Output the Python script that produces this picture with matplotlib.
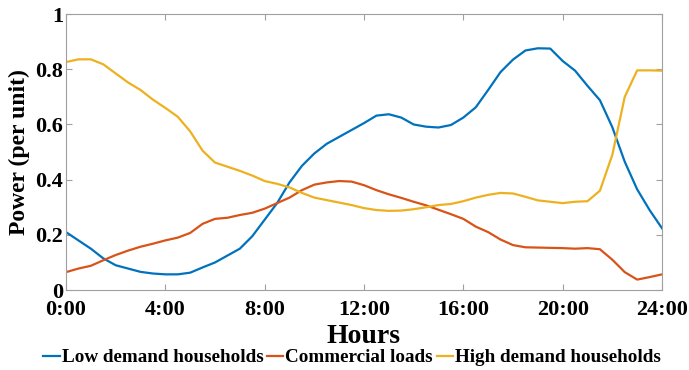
import numpy as np
import matplotlib
matplotlib.use('Agg')
import matplotlib.pyplot as plt

# half-hour samples, 0:00 .. 24:00
hours = np.arange(0, 24.5, 0.5)

low_demand = [0.21, 0.18, 0.15, 0.115, 0.09, 0.078, 0.066, 0.06, 0.057, 0.057,
              0.063, 0.082, 0.10, 0.125, 0.15, 0.195, 0.255, 0.315, 0.39, 0.45,
              0.495, 0.53, 0.555, 0.58, 0.605, 0.632, 0.637, 0.625, 0.60, 0.592,
              0.589, 0.598, 0.625, 0.662, 0.725, 0.79, 0.835, 0.868, 0.876, 0.875,
              0.83, 0.795, 0.74, 0.688, 0.59, 0.465, 0.365, 0.29, 0.224]

commercial = [0.065, 0.078, 0.088, 0.108, 0.127, 0.143, 0.157, 0.168, 0.18, 0.19,
              0.207, 0.24, 0.258, 0.262, 0.272, 0.28, 0.295, 0.315, 0.335, 0.362,
              0.382, 0.39, 0.395, 0.393, 0.38, 0.362, 0.347, 0.334, 0.32, 0.307,
              0.291, 0.275, 0.258, 0.23, 0.21, 0.183, 0.163, 0.155, 0.154, 0.153,
              0.152, 0.15, 0.152, 0.148, 0.11, 0.065, 0.038, 0.047, 0.057]

high_demand = [0.826, 0.836, 0.836, 0.818, 0.785, 0.752, 0.725, 0.69, 0.66, 0.628,
               0.575, 0.505, 0.462, 0.447, 0.432, 0.415, 0.395, 0.385, 0.372, 0.352,
               0.335, 0.326, 0.317, 0.308, 0.297, 0.29, 0.287, 0.288, 0.293, 0.30,
               0.308, 0.312, 0.322, 0.335, 0.345, 0.352, 0.35, 0.338, 0.325, 0.32,
               0.315, 0.32, 0.322, 0.36, 0.49, 0.70, 0.796, 0.796, 0.795]

series_names = ['Low demand households', 'Commercial loads', 'High demand households']
colors = ['#0072BD', '#D95319', '#EDB120']

xticks = [0, 4, 8, 12, 16, 20, 24]
xtick_labels = ['0:00', '4:00', '8:00', '12:00', '16:00', '20:00', '24:00']
yticks = [0, 0.2, 0.4, 0.6, 0.8, 1]
ytick_labels = ['0', '0.2', '0.4', '0.6', '0.8', '1']

plt.rcParams['font.family'] = 'Liberation Serif'
plt.rcParams['font.weight'] = 'bold'

fig = plt.figure(figsize=(6.89, 3.70), dpi=100)
ax = fig.add_axes([0.0958, 0.216, 0.865, 0.746])

for vals, name, c in zip([low_demand, commercial, high_demand], series_names, colors):
    ax.plot(hours, vals, color=c, linewidth=1.6, label=name)

ax.set_xlim(0, 24)
ax.set_ylim(0, 1)
ax.set_xticks(xticks)
ax.set_xticklabels(xtick_labels, fontsize=16, fontweight='bold')
ax.set_yticks(yticks)
ax.set_yticklabels(ytick_labels, fontsize=16, fontweight='bold')
ax.tick_params(direction='in', top=True, right=True, length=4, color='#a0a0a0')
ax.tick_params(axis='x', pad=7)
ax.tick_params(axis='y', pad=2)
for sp in ax.spines.values():
    sp.set_color('#a0a0a0')
    sp.set_linewidth(0.8)

ax.set_xlabel('Hours', fontsize=20, fontweight='bold', labelpad=3)
ax.set_ylabel('Power (per unit)', fontsize=17, fontweight='bold', labelpad=4)

ax.legend(loc='center', bbox_to_anchor=(0.48, -0.245), ncol=3, frameon=False,
          handlelength=0.85, handletextpad=0.1, columnspacing=0.2,
          borderpad=0.1, prop={'size': 13.8, 'weight': 'bold'})

fig.savefig('out.png', dpi=100)
